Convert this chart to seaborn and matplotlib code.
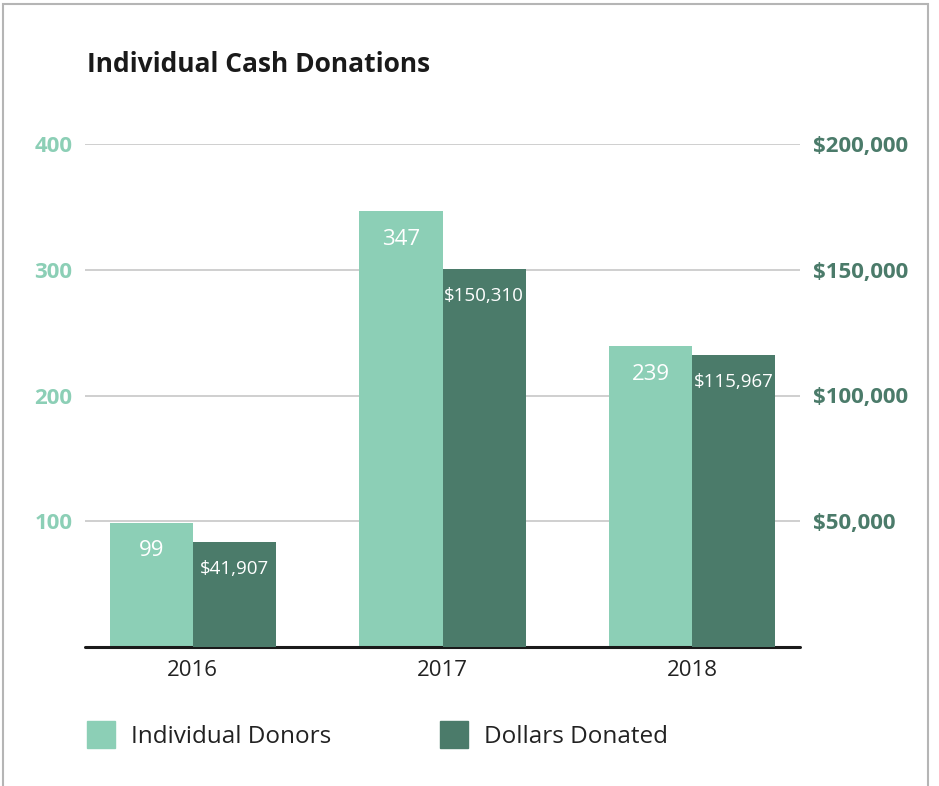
import pandas as pd
import seaborn as sns
import matplotlib.pyplot as plt
from matplotlib.patches import Patch, Rectangle

# chart data
years = ["2016", "2017", "2018"]
donors = [99, 347, 239]
dollars = [41907, 150310, 115967]
series = ["Individual Donors", "Dollars Donated"]
left_ticks = [100, 200, 300, 400]
right_ticks = [50000, 100000, 150000, 200000]

light = "#8ccfb6"
dark = "#4b7b6a"

df = pd.DataFrame({
    "year": years * 2,
    "series": [series[0]] * 3 + [series[1]] * 3,
    "value": donors + dollars,
})

sns.set_style("white")
plt.rcParams["font.family"] = ["Open Sans", "DejaVu Sans"]

fig = plt.figure(figsize=(9.39, 7.86), dpi=100)
ax = fig.add_axes([85 / 939, 1 - 647 / 786, 715 / 939, 503 / 786])
ax2 = ax.twinx()

pal = {series[0]: light, series[1]: dark}
# each series on its own y axis, dodged into its own slot
sns.barplot(data=df[df.series == series[0]], x="year", y="value", hue="series",
            hue_order=series, order=years, palette=pal, width=0.667, dodge=True,
            ax=ax, legend=False, saturation=1, linewidth=0)
sns.barplot(data=df[df.series == series[1]], x="year", y="value", hue="series",
            hue_order=series, order=years, palette=pal, width=0.667, dodge=True,
            ax=ax2, legend=False, saturation=1, linewidth=0)

ax.set_xlim(-0.432, 2.432)
ax.set_ylim(0, 400)
ax2.set_ylim(0, 200000)
ax.set_yticks(left_ticks)
ax.set_yticklabels([str(t) for t in left_ticks])
ax2.set_yticks(right_ticks)
ax2.set_yticklabels([f"${t:,}" for t in right_ticks])

ax.grid(axis="y", color="#cccccc", lw=1.3)
ax.set_axisbelow(True)
ax2.set_zorder(ax.get_zorder() + 1)
ax2.patch.set_visible(False)

for a in (ax, ax2):
    for s in a.spines.values():
        s.set_visible(False)
    a.set_xlabel("")
    a.set_ylabel("")
ax.axhline(0, color="#1a1a1a", lw=2.2, zorder=5, clip_on=False)

ax.tick_params(axis="y", length=0, pad=9, labelsize=16, labelcolor=light)
ax2.tick_params(axis="y", length=0, pad=9, labelsize=16, labelcolor=dark)
ax.tick_params(axis="x", length=0, pad=9, labelsize=16, labelcolor="#222222")
for lab in ax.get_yticklabels() + ax2.get_yticklabels():
    lab.set_fontweight("bold")

# value labels inside bar tops
for c in ax.containers:
    vals = [v for v in c.datavalues]
    ax.bar_label(c, labels=["" if pd.isna(v) else f"{v:.0f}" for v in vals],
                 padding=-28, color="white", fontsize=16)
for c in ax2.containers:
    vals = [v for v in c.datavalues]
    ax2.bar_label(c, labels=["" if pd.isna(v) else f"${v:,.0f}" for v in vals],
                  padding=-26, color="white", fontsize=13.5)

fig.text(87 / 939, 1 - 64 / 786, "Individual Cash Donations", fontsize=19,
         fontweight="bold", color="#1a1a1a", va="center")

handles = [Patch(color=light, label=series[0]), Patch(color=dark, label=series[1])]
fig.legend(handles=handles, loc="center left", bbox_to_anchor=(65 / 939, 1 - 735 / 786),
           ncol=2, frameon=False, fontsize=17.5, handlelength=1.15, handleheight=1.3,
           handletextpad=0.65, columnspacing=4.5, labelcolor="#222222")

fig.patches.append(Rectangle((3 / 939, -0.1), 925 / 939, 1.1 - 4 / 786,
                             transform=fig.transFigure, fill=False,
                             edgecolor="#b5b5b5", lw=1.5))

fig.savefig("out.png", dpi=100)
